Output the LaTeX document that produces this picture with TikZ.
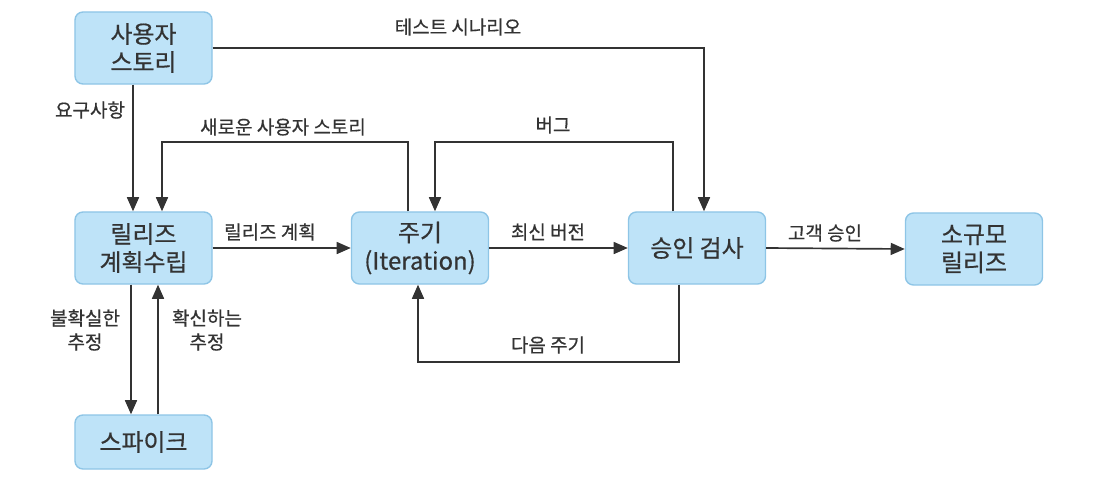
\documentclass[tikz,border=0pt]{standalone}
\usepackage{fontspec}
\setmainfont{Noto Sans CJK KR}[FakeBold=0.6]
\usetikzlibrary{arrows.meta}

\definecolor{boxfill}{HTML}{BEE3F8}
\definecolor{boxline}{HTML}{8EC5E6}
\definecolor{ink}{HTML}{333333}

\tikzset{
  stage/.style={draw=boxline, fill=boxfill, line width=1pt, rounded corners=0.2cm,
    minimum width=3.425cm, minimum height=1.8cm, inner sep=0pt, align=center,
    text=ink, font=\fontsize{17}{20}\selectfont},
  flow/.style={draw=ink, line width=1.2pt, -{Triangle[length=10pt,width=8.5pt]}},
  lbl/.style={inner sep=0pt, align=center, text=ink, font=\fontsize{13.5}{17}\selectfont}
}

\begin{document}
\begin{tikzpicture}[x=0.025cm, y=-0.025cm]
\useasboundingbox (0,0) rectangle (1120,482);

% the stages
\node[stage] (story) at (143.5,48) {사용자\\스토리};
\node[stage] (plan) at (143.5,248) {릴리즈\\계획수립};
\node[stage, minimum height=1.35cm] (spike) at (143.5,442) {스파이크};
\node[stage] (iter) at (420,248) {주기\\(Iteration)};
\node[stage] (accept) at (697,248) {승인 검사};
\node[stage] (small) at (974,249) {소규모\\릴리즈};

% the flows
\draw[flow] ([xshift=-0.2625cm]story.south) -- ([xshift=-0.2625cm]plan.north);
\draw[flow] ([xshift=-0.3cm]iter.north) -- ++(0,-69) -| ([xshift=0.4625cm]plan.north);
\draw[flow] ([xshift=-0.6cm]accept.north) -- ++(0,-69) -| ([xshift=0.375cm]iter.north);
\draw[flow] (story.east) -| ([xshift=0.175cm]accept.north);
\draw[flow] (plan.east) -- (iter.west);
\draw[flow] (iter.east) -- (accept.west);
\draw[flow] (accept.east) -- (small.west);
\draw[flow] ([xshift=-0.45cm]accept.south) -- ++(0,77) -| ([xshift=-0.05cm]iter.south);
\draw[flow] ([xshift=-0.3125cm]plan.south) -- ([xshift=-0.3125cm]spike.north);
\draw[flow] ([xshift=0.3625cm]spike.north) -- ([xshift=0.3625cm]plan.south);

% the labels
\node[lbl] (needs) at (90,110) {요구사항};
\node[lbl] (newstory) at (283,127) {새로운 사용자 스토리};
\node[lbl] (bug) at (553,125) {버그};
\node[lbl] (test) at (458,27) {테스트 시나리오};
\node[lbl] (planned) at (270,232) {릴리즈 계획};
\node[lbl] (latest) at (548,232) {최신 버전};
\node[lbl] (approve) at (825,233) {고객 승인};
\node[lbl] (next) at (548,345) {다음 주기};
\node[lbl] (unsure) at (85,330) {불확실한\\추정};
\node[lbl] (sure) at (207,330) {확신하는\\추정};
\end{tikzpicture}
\end{document}
